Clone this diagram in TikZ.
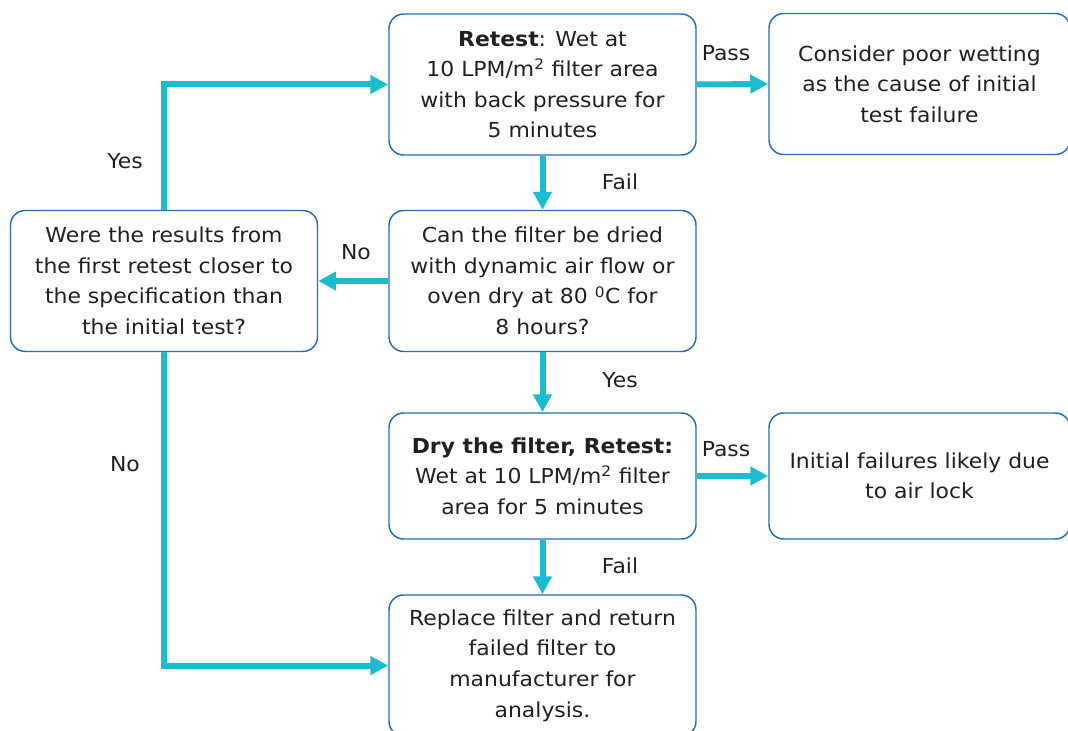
\documentclass[tikz,border=0pt]{standalone}
\usepackage{fontspec}
\setmainfont[FakeStretch=1.06]{DejaVu Sans}
\usetikzlibrary{arrows.meta,positioning}
\definecolor{boxblue}{RGB}{31,111,184}
\definecolor{flowcyan}{RGB}{27,188,208}
\definecolor{inkgray}{RGB}{35,31,32}
\begin{document}
\begin{tikzpicture}[x=0.75pt,y=-0.75pt,font=\fontsize{15.5}{22.9}\selectfont,text=inkgray,
	box/.style={draw=boxblue,line width=1.1pt,rounded corners=11pt,align=center,inner sep=0pt,minimum width=230.25pt,minimum height=105.75pt},
	sidebox/.style={box,minimum width=225.75pt},
	flow/.style={draw=flowcyan,line width=4.5pt,-{Triangle[length=13.5pt,width=13.5pt]}},
	lbl/.style={inner sep=0pt}]
			\useasboundingbox (0,0) rectangle (1068,731);
			\clip (0,0) rectangle (1068,731);
			\node[box] (retest) at (542.5,84.5) {\textbf{Retest}: Wet at\\ 10 LPM/m\textsuperscript{2} filter area\\ with back pressure for\\ 5 minutes};
			\node[sidebox] (wetting) at (919.5,84) {Consider poor wetting\\ as the cause of initial\\ test failure};
			\node[box] (dried) at (542.5,281) {Can the filter be dried\\ with dynamic air flow or\\ oven dry at 80 \textsuperscript{0}C for\\ 8 hours?};
			\node[box] (closer) at (164,281) {Were the results from\\ the first retest closer to\\ the specification than\\ the initial test?};
			\node[box,minimum height=94.5pt] (dryretest) at (542.5,476) {\textbf{Dry the filter, Retest:}\\ Wet at 10 LPM/m\textsuperscript{2} filter\\ area for 5 minutes};
			\node[sidebox,minimum height=94.5pt] (airlock) at (919.5,476) {Initial failures likely due\\ to air lock};
			\node[box] (replace) at (542.5,665.5) {Replace filter and return\\ failed filter to\\ manufacturer for\\ analysis.};
			\draw[flow] (retest.east) -- (wetting.west);
			\draw[flow] (retest.south) -- (dried.north);
			\draw[flow] (dried.west) -- (closer.east);
			\draw[flow] (dried.south) -- (dryretest.north);
			\draw[flow] (dryretest.east) -- (airlock.west);
			\draw[flow] (dryretest.south) -- (replace.north);
			\draw[flow] (closer.north) |- (retest.west);
			\draw[flow] (closer.south) |- (replace.west);
			\node[lbl] (yes1) at (125,161) {Yes};
			\node[lbl] (pass1) at (726,53) {Pass};
			\node[lbl] (fail1) at (620,182) {Fail};
			\node[lbl] (no1) at (356,252) {No};
			\node[lbl] (yes2) at (620,380) {Yes};
			\node[lbl] (pass2) at (726,449) {Pass};
			\node[lbl] (fail2) at (620,566) {Fail};
			\node[lbl] (no2) at (125,464) {No};
\end{tikzpicture}
\end{document}
